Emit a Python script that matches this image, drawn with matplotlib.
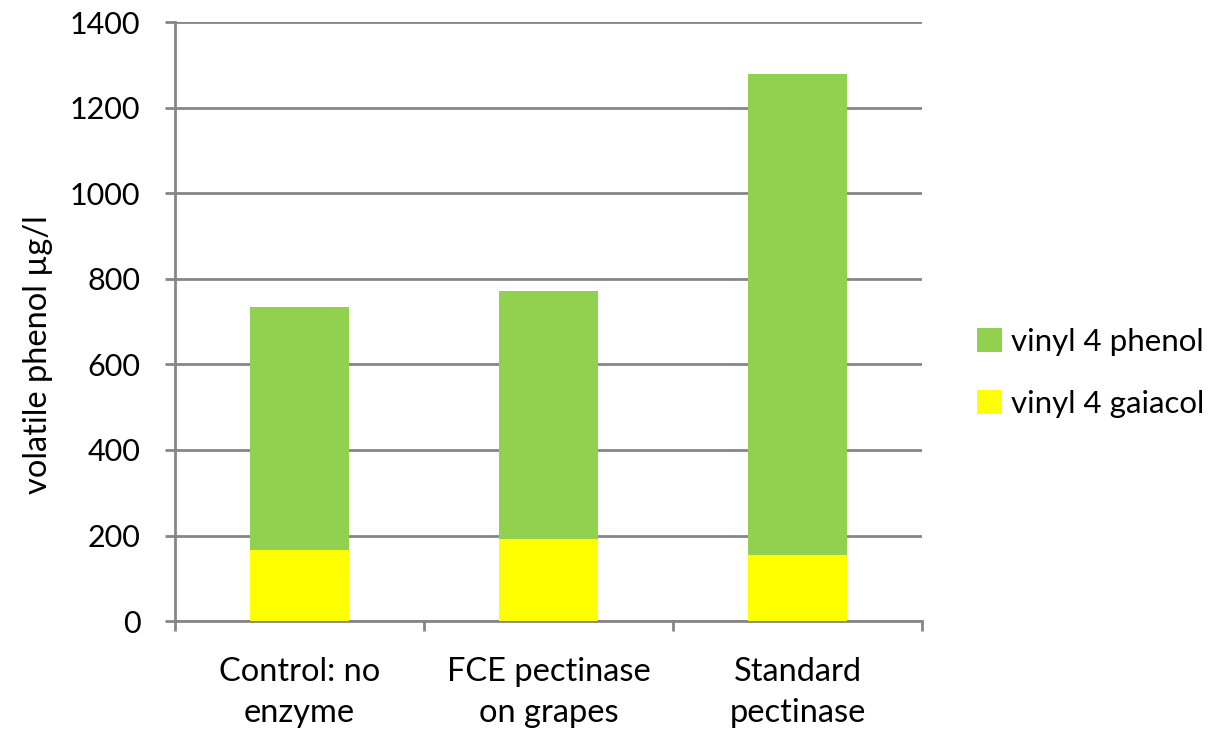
import matplotlib.pyplot as plt
import numpy as np

# categories and stacked values (µg/l)
categories = ['Control: no\nenzyme', 'FCE pectinase\non grapes', 'Standard\npectinase']
gaiacol = [167, 192, 154]
phenol = [568, 580, 1125]
yticks = [0, 200, 400, 600, 800, 1000, 1200, 1400]

plt.rcParams['font.family'] = ['Lato', 'DejaVu Sans']

fig = plt.figure(figsize=(12.18, 7.35), dpi=100)
ax = fig.add_axes([0.1437, 0.155, 0.6133, 0.815])

x = np.arange(len(categories))
b1 = ax.bar(x, gaiacol, width=0.4, color='#FFFF00', label='vinyl 4 gaiacol', zorder=3)
b2 = ax.bar(x, phenol, width=0.4, bottom=gaiacol, color='#92D050', label='vinyl 4 phenol', zorder=3)

ax.set_xlim(-0.5, 2.5)
ax.set_ylim(0, 1400)
ax.set_yticks(yticks)
ax.yaxis.grid(True, color='#868686', linewidth=2, zorder=0)

# category ticks at boundaries, labels centred
ax.set_xticks([-0.5, 0.5, 1.5, 2.5])
ax.set_xticklabels([])
ax.set_xticks(x, minor=True)
ax.set_xticklabels(categories, minor=True, fontsize=23.5, linespacing=1.45)
ax.tick_params(axis='x', which='minor', length=0, pad=26)
ax.tick_params(axis='x', which='major', length=7, width=2, color='#868686')
ax.tick_params(axis='y', length=7, width=2, color='#868686', labelsize=22, pad=18)

for s in ['top', 'right']:
    ax.spines[s].set_visible(False)
for s in ['left', 'bottom']:
    ax.spines[s].set_color('#868686')
    ax.spines[s].set_linewidth(2)

ax.set_ylabel('volatile phenol µg/l', fontsize=23.5)
ax.yaxis.set_label_coords(-0.163, 0.445)

ax.legend(handles=[b2, b1], loc='center left', bbox_to_anchor=(0.779, 0.4925),
          bbox_transform=fig.transFigure,
          frameon=False, fontsize=22.5, handlelength=0.8, handleheight=0.8,
          handletextpad=0.3, labelspacing=1.1)

fig.savefig('out.png', dpi=100)
